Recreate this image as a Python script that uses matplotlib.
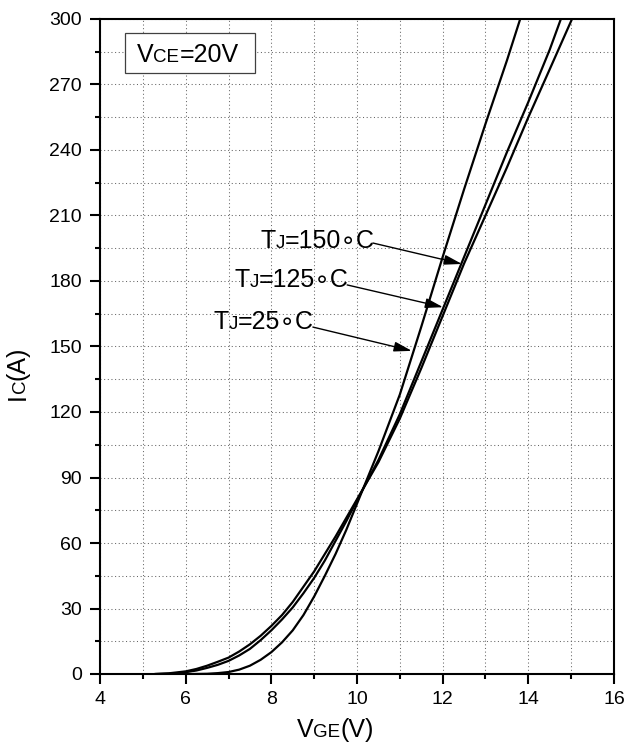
import matplotlib
matplotlib.use('Agg')
import matplotlib.pyplot as plt
from matplotlib.patches import Rectangle
from matplotlib.transforms import IdentityTransform
from matplotlib.ticker import MultipleLocator

plt.rcParams['font.family'] = ['Liberation Sans', 'DejaVu Sans']

# transfer characteristics
vge_25 = [6.2, 6.5, 6.75, 7.0, 7.25, 7.5, 7.75, 8.0, 8.25, 8.5, 8.75, 9.0, 9.25, 9.5, 9.75,
          10.0, 10.5, 11.0, 11.5, 12.0, 12.5, 13.0, 13.5, 13.81]
ic_25 = [0, 0.1, 0.4, 0.9, 2.0, 3.8, 6.5, 10.0, 14.5, 20, 27, 35.5, 45, 55, 66,
         78, 102, 128, 159, 191, 222, 252, 281, 300]

vge_125 = [5.3, 5.7, 6.0, 6.25, 6.5, 6.75, 7.0, 7.25, 7.5, 7.75, 8.0, 8.25, 8.5, 8.75, 9.0,
           9.25, 9.5, 9.75, 10.0, 10.5, 11.0, 11.5, 12.0, 12.5, 13.0, 13.5, 14.0, 14.5, 14.76]
ic_125 = [0, 0.2, 0.8, 1.6, 2.8, 4.2, 6.0, 8.5, 11.5, 15.5, 20, 25, 30.5, 37, 44,
          52, 61, 70, 79.5, 98, 119, 143, 167, 191, 215, 239, 262, 286, 300]

vge_150 = [5.3, 5.6, 6.0, 6.25, 6.5, 6.75, 7.0, 7.25, 7.5, 7.75, 8.0, 8.25, 8.5, 8.75, 9.0,
           9.25, 9.5, 9.75, 10.0, 10.5, 11.0, 11.5, 12.0, 12.5, 13.0, 13.5, 14.0, 14.5, 15.02]
ic_150 = [0, 0.3, 1.2, 2.3, 3.8, 5.6, 7.5, 10.3, 13.6, 17.5, 22, 27, 33, 40, 47,
          55, 63, 71.5, 80, 97, 117, 140, 164, 188, 210, 232, 255, 277, 300]

xticks = [4, 6, 8, 10, 12, 14, 16]
yticks = [0, 30, 60, 90, 120, 150, 180, 210, 240, 270, 300]

# label text, arrow tail, arrow tip (data coords)
labels = [
    ('150', (7.74, 195.1), (10.37, 197.4), (12.45, 187.8)),
    ('125', (7.13, 177.3), (9.77, 178.2), (12.01, 168.0)),
    ('25', (6.64, 158.0), (8.97, 158.9), (11.28, 148.0)),
]

BIG = 18
SMALL = 13.5

fig = plt.figure(figsize=(6.27, 7.44), dpi=100)
W, H = 627, 744
ax = fig.add_axes([100 / W, 70 / H, 514 / W, 655 / H])
renderer = fig.canvas.get_renderer()


def mixed_text(x, y, parts, transform, rotation=0, zorder=5):
    """draw pieces of text one after another on a common baseline"""
    px, py = transform.transform((x, y))
    off = 0.0
    for s, size in parts:
        if rotation == 0:
            pos = (px + off, py)
        else:
            pos = (px, py + off)
        t = ax.text(pos[0], pos[1], s, fontsize=size, rotation=rotation,
                    rotation_mode='anchor', ha='left', va='baseline',
                    transform=IdentityTransform(), zorder=zorder, clip_on=False)
        bb = t.get_window_extent(renderer)
        off += bb.width if rotation == 0 else bb.height
    return off


for v, i in [(vge_25, ic_25), (vge_125, ic_125), (vge_150, ic_150)]:
    ax.plot(v, i, color='black', lw=1.6, solid_joinstyle='round', zorder=3)

ax.set_xlim(4, 16)
ax.set_ylim(0, 300)
ax.set_xticks(xticks)
ax.set_yticks(yticks)
ax.xaxis.set_minor_locator(MultipleLocator(1))
ax.yaxis.set_minor_locator(MultipleLocator(15))
ax.tick_params(which='major', direction='out', length=7, width=1.5, labelsize=14, pad=5)
ax.tick_params(axis='y', which='major', pad=6)
ax.tick_params(which='minor', direction='out', length=3.5, width=1.5)
for sp in ax.spines.values():
    sp.set_linewidth(1.5)
ax.grid(True, which='both', color='0.4', linestyle=(0, (1, 2.5)), lw=0.75)
ax.set_axisbelow(True)

# Vce box
ax.add_patch(Rectangle((4.58, 275.3), 3.04, 18.3, facecolor='white', edgecolor='0.25',
                       lw=0.9, zorder=4))
mixed_text(4.86, 280.3, [('V', BIG), ('CE', SMALL), ('=20V', BIG)], ax.transData)

for t, txt_xy, tail, tip in labels:
    mixed_text(txt_xy[0], txt_xy[1], [('T', BIG), ('J', SMALL), ('=' + t + '\u2218C', BIG)],
               ax.transData)
    ax.annotate('', xy=tip, xytext=tail,
                arrowprops=dict(arrowstyle='-|>,head_length=0.9,head_width=0.25',
                                color='black', lw=1.0, mutation_scale=12,
                                shrinkA=0, shrinkB=0), zorder=5)

# axis labels
mixed_text(0.383, -0.0962, [('V', BIG), ('GE', SMALL), ('(V)', BIG)], ax.transAxes)
mixed_text(-0.146, 0.418, [('I', BIG), ('C', SMALL), ('(A)', BIG)], ax.transAxes, rotation=90)

fig.savefig('out.png', dpi=100)
